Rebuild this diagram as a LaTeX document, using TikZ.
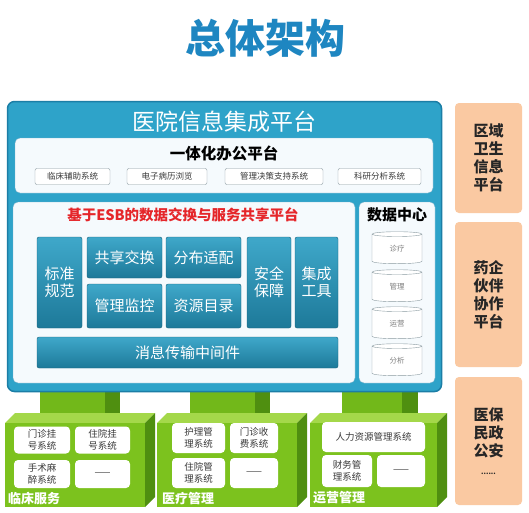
\documentclass[tikz,border=0pt]{standalone}
\usepackage{fontspec}
\setmainfont{Noto Sans CJK SC}
\usetikzlibrary{shapes.geometric}
\definecolor{titleblue}{HTML}{1E86C1}
\definecolor{platfill}{HTML}{2EA3C9}
\definecolor{platedge}{HTML}{1B7EA6}
\definecolor{blktop}{HTML}{3FA8CA}
\definecolor{blkbot}{HTML}{1D7999}
\definecolor{innerbg}{HTML}{F5FAFD}
\definecolor{subedge}{HTML}{8A9AA0}
\definecolor{gfront}{HTML}{7CC21E}
\definecolor{gtop}{HTML}{A4D84A}
\definecolor{gside}{HTML}{4F8F10}
\definecolor{gpillar}{HTML}{72B81A}
\definecolor{peach}{HTML}{FAC9A2}
\definecolor{esbred}{HTML}{E5262A}
\definecolor{darktxt}{HTML}{3A3A3A}
\tikzset{
  fs/.style={font=\fontsize{#1}{#1}\selectfont},
  fsb/.style={font=\fontsize{#1}{#1}\selectfont\bfseries},
  blk/.style={rounded corners=2pt, top color=blktop, bottom color=blkbot, draw=blkbot!80!black, line width=0.4pt, text=white, inner sep=0pt, font=\fontsize{15}{17}\selectfont, align=center},
  subbox/.style={draw=subedge, fill=white, rounded corners=2pt, inner sep=0pt, font=\fontsize{8.5}{9}\selectfont, text=darktxt},
  panel/.style={fill=innerbg, draw=platedge!60, rounded corners=5pt, inner sep=0pt},
  cyl/.style={shape=cylinder, shape border rotate=90, aspect=0.32, draw=subedge, fill=white, inner sep=0pt, font=\fontsize{7.5}{8}\selectfont, text=gray},
  gbox/.style={fill=white, rounded corners=4pt, inner sep=0pt, font=\fontsize{9.5}{11.5}\selectfont, text=darktxt, align=center},
  orbox/.style={fill=peach, rounded corners=4pt, inner sep=0pt, font=\fontsize{15}{18}\selectfont\bfseries, text=black!85, align=center},
  glabel/.style={font=\fontsize{13}{13}\selectfont\bfseries, text=white, anchor=west, inner sep=0pt}
}
\begin{document}
\begin{tikzpicture}[x=1pt,y=-1pt]
\useasboundingbox (0,0) rectangle (529,512);
\fill[white] (0,0) rectangle (529,512);

% title
\node[fsb=40, text=titleblue] (title) at (265,38) {总体架构};

% green modules (drawn before platform so pillars tuck under)
% module 1
\fill[gpillar] (40,385) rectangle (105,418);
\fill[gside] (105,385) rectangle (120,418);
\fill[gtop] (5,423) -- (15,413) -- (155,413) -- (145,423) -- cycle;
\fill[gside] (145,423) -- (155,413) -- (155,497) -- (145,507) -- cycle;
\node[fill=gfront, minimum width=140, minimum height=84, inner sep=0] (m1) at (75,465) {};
% module 2
\fill[gpillar] (190,385) rectangle (255,418);
\fill[gside] (255,385) rectangle (270,418);
\fill[gtop] (157,423) -- (167,413) -- (307,413) -- (297,423) -- cycle;
\fill[gside] (297,423) -- (307,413) -- (307,497) -- (297,507) -- cycle;
\node[fill=gfront, minimum width=140, minimum height=84, inner sep=0] (m2) at (227,465) {};
% module 3
\fill[gpillar] (342,385) rectangle (402,418);
\fill[gside] (402,385) rectangle (418,418);
\fill[gtop] (310,423) -- (320,413) -- (447,413) -- (437,423) -- cycle;
\fill[gside] (437,423) -- (447,413) -- (447,497) -- (437,507) -- cycle;
\node[fill=gfront, minimum width=127, minimum height=84, inner sep=0] (m3) at (373.5,465) {};

% platform
\node[draw=platedge, line width=1.5pt, fill=platfill, rounded corners=7pt, minimum width=434, minimum height=290, inner sep=0] (plat) at (224.5,246.5) {};
\node[fs=23, text=white] (plattitle) at (224,122) {医院信息集成平台};

% office platform
\node[panel, minimum width=418, minimum height=55] (office) at (224,165.5) {};
\node[fsb=15.5, text=black] (officetitle) at (224,153) {一体化办公平台};
\node[subbox, minimum width=75, minimum height=16] (s1) at (72.5,176.5) {临床辅助系统};
\node[subbox, minimum width=80, minimum height=16] (s2) at (167,176.5) {电子病历浏览};
\node[subbox, minimum width=98, minimum height=16] (s3) at (274,176.5) {管理决策支持系统};
\node[subbox, minimum width=83, minimum height=16] (s4) at (379.5,176.5) {科研分析系统};

% ESB panel
\node[panel, minimum width=342, minimum height=181] (esb) at (184,292.5) {};
\node[fsb=14.5, text=esbred] (esbtitle) at (183,215) {基于ESB的数据交换与服务共享平台};
\node[blk, minimum width=45, minimum height=91] (b1) at (59.5,282.5) {标准\\规范};
\node[blk, minimum width=75, minimum height=41] (b2) at (124.5,257.5) {共享交换};
\node[blk, minimum width=75, minimum height=41] (b3) at (203.5,257.5) {分布适配};
\node[blk, minimum width=75, minimum height=44] (b4) at (124.5,306) {管理监控};
\node[blk, minimum width=75, minimum height=44] (b5) at (203.5,306) {资源目录};
\node[blk, minimum width=44, minimum height=91] (b6) at (269,282.5) {安全\\保障};
\node[blk, minimum width=43, minimum height=91] (b7) at (316.5,282.5) {集成\\工具};
\node[blk, minimum width=301, minimum height=31] (b8) at (187.5,352.5) {消息传输中间件};

% data center
\node[panel, minimum width=76, minimum height=181] (dc) at (397,292.5) {};
\node[fsb=15, text=black] (dctitle) at (397,215) {数据中心};
\node[cyl, minimum width=50, minimum height=32] (c1) at (397,249) {诊疗};
\node[cyl, minimum width=50, minimum height=32] (c2) at (397,287) {管理};
\node[cyl, minimum width=50, minimum height=32] (c3) at (397,324) {运营};
\node[cyl, minimum width=50, minimum height=32] (c4) at (397,361) {分析};

% module contents
\node[gbox, minimum width=56, minimum height=27] (g11) at (42,440) {门诊挂\\号系统};
\node[gbox, minimum width=55, minimum height=27] (g12) at (102.5,440) {住院挂\\号系统};
\node[gbox, minimum width=56, minimum height=28] (g13) at (42,474) {手术麻\\醉系统};
\node[gbox, minimum width=55, minimum height=28] (g14) at (102.5,474) {——};
\node[glabel] (l1) at (8,498) {临床服务};

\node[gbox, minimum width=53, minimum height=30] (g21) at (198.5,438) {护理管\\理系统};
\node[gbox, minimum width=48, minimum height=30] (g22) at (254,438) {门诊收\\费系统};
\node[gbox, minimum width=53, minimum height=30] (g23) at (198.5,473) {住院管\\理系统};
\node[gbox, minimum width=48, minimum height=30] (g24) at (254,473) {——};
\node[glabel] (l2) at (162,498) {医疗管理};

\node[gbox, minimum width=103, minimum height=30] (g31) at (373.5,437) {人力资源管理系统};
\node[gbox, minimum width=50, minimum height=32] (g32) at (347,471) {财务管\\理系统};
\node[gbox, minimum width=48, minimum height=32] (g33) at (401,471) {——};
\node[glabel] (l3) at (313,498) {运营管理};

% right column
\node[orbox, minimum width=67, minimum height=110] (r1) at (488.5,158) {区域\\卫生\\信息\\平台};
\node[orbox, minimum width=67, minimum height=145] (r2) at (488.5,294.5) {药企\\伙伴\\协作\\平台};
\node[orbox, minimum width=67, minimum height=128] (r3) at (488.5,441) {医保\\民政\\公安\\{\fontsize{7}{18}\selectfont ......}};
\end{tikzpicture}
\end{document}
